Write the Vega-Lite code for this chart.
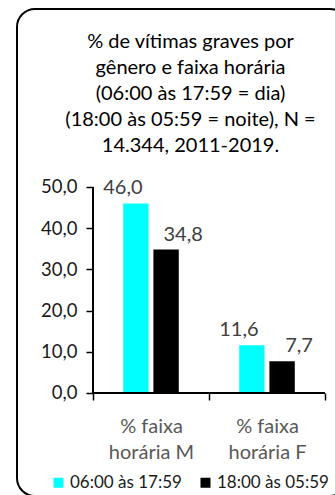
{
  "$schema": "https://vega.github.io/schema/vega-lite/v6.json",
  "width": 331,
  "height": 487,
  "autosize": {"type": "none"},
  "padding": {"left": 17, "top": 9, "right": -13, "bottom": -1},
  "background": "white",
  "config": {
    "locale": {"number": {"decimal": ",", "thousands": ".", "grouping": [3], "currency": ["R$", ""]}},
    "font": "Lato",
    "view": {"stroke": "black", "strokeWidth": 2, "cornerRadius": 18, "fill": "white"}
  },
  "title": {
    "text": ["% de vítimas graves por", "gênero e faixa horária", "(06:00 às 17:59 = dia)", "(18:00 às 05:59 = noite), N =", "14.344, 2011-2019."],
    "fontSize": 20,
    "fontWeight": "normal",
    "color": "black",
    "lineHeight": 26,
    "anchor": "middle",
    "baseline": "top",
    "offset": -147,
    "dx": 8
  },
  "data": {
    "values": [
      {"genero": "% faixa horária M", "faixa": "06:00 às 17:59", "pct": 46.0},
      {"genero": "% faixa horária M", "faixa": "18:00 às 05:59", "pct": 34.8},
      {"genero": "% faixa horária F", "faixa": "06:00 às 17:59", "pct": 11.6},
      {"genero": "% faixa horária F", "faixa": "18:00 às 05:59", "pct": 7.7}
    ]
  },
  "layer": [
    {
      "mark": {"type": "bar"},
      "encoding": {
        "x": {
          "field": "genero", "type": "nominal",
          "scale": {"domain": ["% faixa horária M", "% faixa horária F"], "paddingInner": 0, "paddingOuter": 0.4267, "align": 0.7677},
          "axis": {
            "orient": "bottom", "offset": -103, "domain": false, "tickBand": "extent",
            "tickSize": 7, "tickColor": "black", "tickWidth": 1.5, "labelAngle": 0,
            "labelExpr": "[slice(datum.label, 0, 7), slice(datum.label, 8)]",
            "labelFontSize": 20, "labelColor": "#595959", "labelPadding": 16, "labelLineHeight": 26,
            "title": null
          }
        },
        "xOffset": {
          "field": "faixa", "type": "nominal",
          "scale": {"domain": ["06:00 às 17:59", "18:00 às 05:59"], "paddingInner": 0.16, "paddingOuter": 1.4}
        },
        "y": {
          "field": "pct", "type": "quantitative",
          "scale": {"domain": [-25, 93.2], "nice": false, "zero": false},
          "axis": {
            "values": [0, 10, 20, 30, 40, 50], "format": ".1f", "offset": -76, "domain": false, "grid": false,
            "tickSize": 7, "tickColor": "black", "tickWidth": 1.5, "labelPadding": 9,
            "labelFontSize": 18.5, "labelColor": "#1a1a1a", "title": null
          }
        },
        "color": {
          "field": "faixa", "type": "nominal",
          "scale": {"domain": ["06:00 às 17:59", "18:00 às 05:59"], "range": ["#00ffff", "#000000"]},
          "legend": {
            "title": null, "orient": "none", "legendX": 33, "legendY": 465, "direction": "horizontal",
            "symbolType": "square", "symbolSize": 100, "symbolStrokeWidth": 0, "labelFontSize": 17,
            "labelColor": "#1a1a1a", "columnPadding": 15, "labelOffset": 3, "padding": 0
          }
        }
      }
    },
    {
      "transform": [{"filter": "datum.faixa === '06:00 às 17:59'"}],
      "mark": {"type": "text", "baseline": "alphabetic", "dy": -9, "dx": -13, "fontSize": 20, "color": "#404040"},
      "encoding": {
        "x": {"field": "genero", "type": "nominal"},
        "xOffset": {"field": "faixa", "type": "nominal"},
        "y": {"field": "pct", "type": "quantitative"},
        "text": {"field": "pct", "type": "quantitative", "format": ".1f"}
      }
    },
    {
      "transform": [{"filter": "datum.faixa === '18:00 às 05:59'"}],
      "mark": {"type": "text", "baseline": "alphabetic", "dy": -9, "dx": 17, "fontSize": 20, "color": "#404040"},
      "encoding": {
        "x": {"field": "genero", "type": "nominal"},
        "xOffset": {"field": "faixa", "type": "nominal"},
        "y": {"field": "pct", "type": "quantitative"},
        "text": {"field": "pct", "type": "quantitative", "format": ".1f"}
      }
    },
    {
      "mark": {"type": "rule", "color": "black", "strokeWidth": 1.5},
      "encoding": {
        "x": {"datum": "% faixa horária M", "type": "nominal", "bandPosition": 0},
        "y": {"datum": 0, "type": "quantitative"},
        "y2": {"datum": 50}
      }
    },
    {
      "mark": {"type": "rule", "color": "black", "strokeWidth": 1.5},
      "encoding": {
        "x": {"datum": "% faixa horária M", "type": "nominal", "bandPosition": 0},
        "x2": {"datum": "% faixa horária F", "bandPosition": 1},
        "y": {"datum": 0, "type": "quantitative"}
      }
    }
  ]
}
